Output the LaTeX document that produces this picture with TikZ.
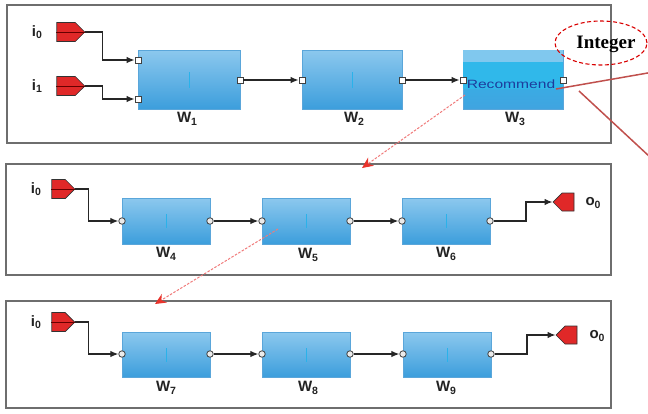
\documentclass[tikz,border=0pt]{standalone}
\usepackage{fontspec}
\setmainfont{Liberation Sans}
\newfontfamily\serifbold{Liberation Serif}
\usetikzlibrary{shapes.symbols,shapes.geometric,arrows.meta}
\definecolor{panelgray}{HTML}{6E6E6E}
\definecolor{blocktop}{HTML}{8CC8EE}
\definecolor{blockbot}{HTML}{3C9EDC}
\definecolor{blockedge}{HTML}{5AA6DA}
\definecolor{portred}{HTML}{E02828}
\definecolor{callred}{HTML}{C0504D}
\definecolor{pinkline}{HTML}{F07A7A}
\definecolor{arrowred}{HTML}{E8342C}
\definecolor{textdark}{HTML}{222222}
\definecolor{recblue}{HTML}{1E3C9C}
\definecolor{w3top}{HTML}{80C8EE}
\definecolor{w3mid}{HTML}{30B8EA}
\definecolor{w3bot}{HTML}{40A4E0}
\definecolor{tickcol}{HTML}{2AB2EA}
\newcommand{\wsub}[2]{#1\raisebox{-0.3ex}{\fontsize{10.5}{10.5}\selectfont #2}}
\tikzset{
  panel/.style={draw=panelgray, line width=1.4pt},
  block/.style={draw=blockedge, line width=0.5pt, top color=blocktop, bottom color=blockbot, inner sep=0pt},
  sqport/.style={draw=black!75, fill=white, line width=0.8pt, minimum size=6pt, inner sep=0pt},
  rdport/.style={draw=black!75, fill=black!8, line width=0.8pt, circle, minimum size=6.5pt, inner sep=0pt},
  inport/.style={signal, signal to=east, draw=black!80, fill=portred, line width=0.7pt, minimum width=28pt, minimum height=19pt, inner sep=0pt},
  inportsm/.style={inport, minimum width=23pt, minimum height=19pt},
  outport/.style={signal, signal to=west, draw=black!80, fill=portred, line width=0.7pt, minimum width=21pt, minimum height=18pt, inner sep=0pt},
  conn/.style={draw=black!85, line width=1.2pt, -{Latex[length=8pt,width=6.5pt]}},
  lbl/.style={font=\bfseries\fontsize{15}{15}\selectfont, text=textdark, inner sep=0pt},
  tick/.style={draw=tickcol, line width=0.9pt},
  callout/.style={draw=callred, line width=1.5pt},
  pinkarrow/.style={draw=pinkline, line width=1pt, dash pattern=on 2.5pt off 1.5pt, -{Stealth[length=11pt,width=10pt,color=arrowred,fill=arrowred]}}
}
\begin{document}
\begin{tikzpicture}[x=1pt,y=-1pt]
\useasboundingbox (0,0) rectangle (648,413);
% ---------- panel 1 ----------
\draw[panel] (7,5) rectangle (611,143);
\node[block, minimum width=102pt, minimum height=59pt] (W1) at (189,79.5) {};
\node[block, minimum width=100pt, minimum height=59pt] (W2) at (352,79.5) {};
\node[block, minimum width=100pt, minimum height=59pt, top color=w3mid, bottom color=w3bot] (W3) at (513,79.5) {};
\fill[w3top] ([xshift=0.3pt,yshift=-0.3pt]W3.north west) rectangle ([xshift=-0.3pt,yshift=-12pt]W3.north east);
\fill[w3mid] ([xshift=0.3pt,yshift=-12pt]W3.north west) rectangle ([xshift=-0.3pt,yshift=20pt]W3.south east);
\draw[tick] ([yshift=-8pt]W1.center) -- ([yshift=8pt]W1.center);
\draw[tick] ([yshift=-8pt]W2.center) -- ([yshift=8pt]W2.center);
\node[text=recblue, font=\fontsize{12}{12}\selectfont, inner sep=0pt] (rec) at (511,84) {\scalebox{1.3}[1]{Recommend}};
\node[sqport] (p1a) at (138,60) {};
\node[sqport] (p1b) at (138,99) {};
\node[sqport] (p1o) at (240,80) {};
\node[sqport] (p2i) at (302,80) {};
\node[sqport] (p2o) at (402,80) {};
\node[sqport] (p3i) at (463,80) {};
\node[sqport] (p3o) at (563,80) {};
\node[inport] (i0a) at (66,32) {};
\node[inport] (i1a) at (66,86) {};
\draw[red!40!black, line width=0.8pt] (i0a.west) -- (i0a.east);
\draw[red!40!black, line width=0.8pt] (i1a.west) -- (i1a.east);
\node[lbl] (li0a) at (37,32) {\wsub{i}{0}};
\node[lbl] (li1a) at (37,86) {\wsub{i}{1}};
\draw[conn] (i0a.east) -- ++(17,0) |- (p1a);
\draw[conn] (i1a.east) -- ++(17,0) |- (p1b);
\draw[conn] (p1o) -- (p2i);
\draw[conn] (p2o) -- (p3i);
\node[lbl] (lw1) at (187,119) {\wsub{W}{1}};
\node[lbl] (lw2) at (354,119) {\wsub{W}{2}};
\node[lbl] (lw3) at (515,119) {\wsub{W}{3}};
% Integer ellipse
\node[ellipse, draw=red!85!black, dash pattern=on 4pt off 2.5pt, line width=1.1pt, minimum width=92pt, minimum height=44pt, inner sep=0pt] (int) at (601,43) {};
\node[font=\serifbold\bfseries\fontsize{19}{19}\selectfont, inner sep=0pt] (inttxt) at (606,44) {Integer};
% callout lines
\coordinate (c1s) at (556,89);
\coordinate (c1e) at (650,72.6);
\coordinate (c2s) at (579,91);
\coordinate (c2e) at (650,157);
\draw[callout] (c1s) -- (c1e);
\draw[callout] (c2s) -- (c2e);
% ---------- panel 2 ----------
\draw[panel] (6,164) rectangle (611,275);
\node[block, minimum width=88pt, minimum height=46pt] (W4) at (166,221) {};
\node[block, minimum width=88pt, minimum height=46pt] (W5) at (306,221) {};
\node[block, minimum width=88pt, minimum height=46pt] (W6) at (446,221) {};
\foreach \b in {W4,W5,W6} \draw[tick] ([yshift=-7pt]\b.center) -- ([yshift=7pt]\b.center);
\node[rdport] (q4i) at (122,221) {};
\node[rdport] (q4o) at (210,221) {};
\node[rdport] (q5i) at (262,221) {};
\node[rdport] (q5o) at (350,221) {};
\node[rdport] (q6i) at (402,221) {};
\node[rdport] (q6o) at (490,221) {};
\node[inportsm] (i0b) at (58.5,189) {};
\draw[red!40!black, line width=0.8pt] (i0b.west) -- (i0b.east);
\node[lbl] (li0b) at (36,189) {\wsub{i}{0}};
\node[outport] (o0b) at (568,202) {};
\node[lbl] (lo0b) at (593,203) {\wsub{o}{0}};
\draw[conn] (i0b.east) -- ++(13,0) |- (q4i);
\draw[conn] (q4o) -- (q5i);
\draw[conn] (q5o) -- (q6i);
\draw[conn] (q6o) -- ++(36,0) |- (o0b);
\node[lbl] (lw4) at (166,254) {\wsub{W}{4}};
\node[lbl] (lw5) at (308,255) {\wsub{W}{5}};
\node[lbl] (lw6) at (446,254) {\wsub{W}{6}};
% ---------- panel 3 ----------
\draw[panel] (6,301) rectangle (611,408);
\node[block, minimum width=88pt, minimum height=45pt] (W7) at (166,354.5) {};
\node[block, minimum width=88pt, minimum height=45pt] (W8) at (306,354.5) {};
\node[block, minimum width=88pt, minimum height=45pt] (W9) at (447,354.5) {};
\foreach \b in {W7,W8,W9} \draw[tick] ([yshift=-7pt]\b.center) -- ([yshift=7pt]\b.center);
\node[rdport] (q7i) at (122,354) {};
\node[rdport] (q7o) at (210,354) {};
\node[rdport] (q8i) at (262,354) {};
\node[rdport] (q8o) at (350,354) {};
\node[rdport] (q9i) at (403,354) {};
\node[rdport] (q9o) at (491,354) {};
\node[inportsm] (i0c) at (58.5,322) {};
\draw[red!40!black, line width=0.8pt] (i0c.west) -- (i0c.east);
\node[lbl] (li0c) at (36,322) {\wsub{i}{0}};
\node[outport] (o0c) at (571,335) {};
\node[lbl] (lo0c) at (597,336) {\wsub{o}{0}};
\draw[conn] (i0c.east) -- ++(13,0) |- (q7i);
\draw[conn] (q7o) -- (q8i);
\draw[conn] (q8o) -- (q9i);
\draw[conn] (q9o) -- ++(36,0) |- (o0c);
\node[lbl] (lw7) at (166,388) {\wsub{W}{7}};
\node[lbl] (lw8) at (308,388) {\wsub{W}{8}};
\node[lbl] (lw9) at (446,388) {\wsub{W}{9}};
% ---------- pink dashed arrows ----------
\coordinate (a1s) at (465,95);
\coordinate (a1e) at (362,168);
\coordinate (a2s) at (278,229);
\coordinate (a2e) at (155,304);
\draw[pinkarrow] (a1s) -- (a1e);
\draw[pinkarrow] (a2s) -- (a2e);
\end{tikzpicture}
\end{document}
